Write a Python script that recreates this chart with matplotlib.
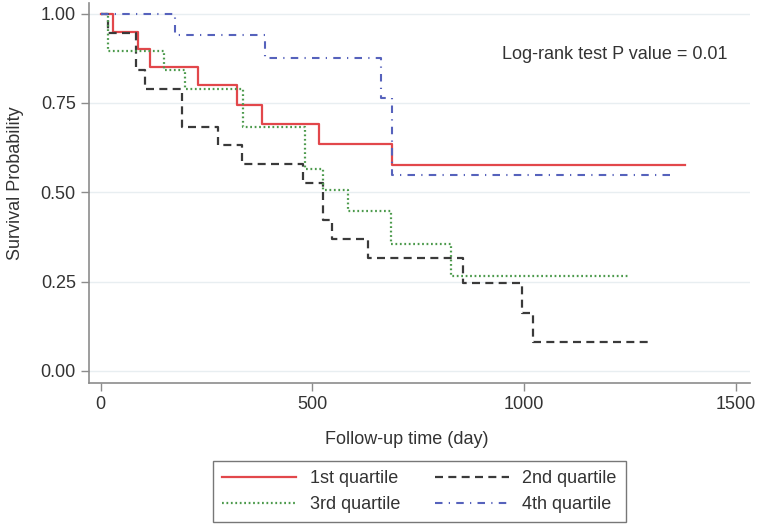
import matplotlib
matplotlib.use('Agg')
import matplotlib.pyplot as plt

plt.rcParams['font.family'] = ['Liberation Sans', 'DejaVu Sans']

# Kaplan-Meier step data (days, survival probability)
q1_time = [0, 28, 89, 116, 229, 323, 382, 516, 687, 1379]
q1_surv = [1.0, 0.95, 0.90, 0.85, 0.80, 0.745, 0.69, 0.635, 0.577, 0.577]

q2_time = [0, 18, 83, 105, 191, 278, 333, 478, 524, 545, 632, 856, 994, 1021, 1297]
q2_surv = [1.0, 0.947, 0.842, 0.789, 0.684, 0.632, 0.579, 0.526, 0.421, 0.368,
           0.316, 0.245, 0.163, 0.082, 0.082]

q3_time = [0, 18, 150, 199, 337, 482, 525, 585, 685, 827, 1250]
q3_surv = [1.0, 0.895, 0.842, 0.79, 0.684, 0.565, 0.507, 0.447, 0.355, 0.265, 0.265]

q4_time = [0, 175, 389, 663, 687, 1344]
q4_surv = [1.0, 0.94, 0.875, 0.764, 0.548, 0.548]

labels = ['1st quartile', '2nd quartile', '3rd quartile', '4th quartile']
x_ticks = [0, 500, 1000, 1500]
y_ticks = [0.0, 0.25, 0.5, 0.75, 1.0]

fig = plt.figure(figsize=(7.6, 5.24), dpi=100)
ax = fig.add_axes([0.1171, 0.2691, 0.8697, 0.7252])

axis_col = '#8c8c8c'
text_col = '#333333'
fs = 13

ax.yaxis.grid(True, color='#e8eef1', lw=1.0)
ax.set_axisbelow(True)

l1, = ax.step(q1_time, q1_surv, where='post', color='#e2474b', lw=1.6)
l2, = ax.step(q2_time, q2_surv, where='post', color='#3a3a3a', lw=1.6,
              dashes=(3.6, 2.4))
l3, = ax.step(q3_time, q3_surv, where='post', color='#4c9a4c', lw=1.6,
              dashes=(0.8, 1.2))
l4, = ax.step(q4_time, q4_surv, where='post', color='#5662bc', lw=1.5,
              dashes=(3.6, 3.0, 0.6, 3.0))

ax.set_xlim(-27.6, 1533)
ax.set_ylim(-0.034, 1.03)
ax.set_xticks(x_ticks)
ax.set_yticks(y_ticks)
ax.set_yticklabels(['%.2f' % v for v in y_ticks])

for side in ['top', 'right']:
    ax.spines[side].set_visible(False)
for side in ['left', 'bottom']:
    ax.spines[side].set_color(axis_col)
    ax.spines[side].set_linewidth(1.2)
ax.tick_params(colors=axis_col, length=5.5, width=1.0, labelcolor=text_col,
               labelsize=fs, pad=4)

ax.set_ylabel('Survival Probability', fontsize=fs, color=text_col)
ax.yaxis.set_label_coords(-0.098, 0.526)
ax.set_xlabel('Follow-up time (day)', fontsize=fs, color=text_col)
ax.xaxis.set_label_coords(0.4805, -0.126)

ax.text(1214, 0.886, 'Log-rank test P value = 0.01', fontsize=fs,
        color=text_col, ha='center', va='center')

leg = fig.legend([l1, l3, l2, l4], [labels[0], labels[2], labels[1], labels[3]],
                 ncol=2, loc='center', bbox_to_anchor=(0.552, 0.062),
                 frameon=True, fancybox=False, fontsize=fs,
                 handlelength=4.1, handletextpad=0.75, columnspacing=1.9,
                 labelspacing=0.5, borderpad=0.5, borderaxespad=0)
leg.get_frame().set_edgecolor('#555555')
leg.get_frame().set_linewidth(1.0)
for t in leg.get_texts():
    t.set_color(text_col)

fig.savefig('out.png', dpi=100)
